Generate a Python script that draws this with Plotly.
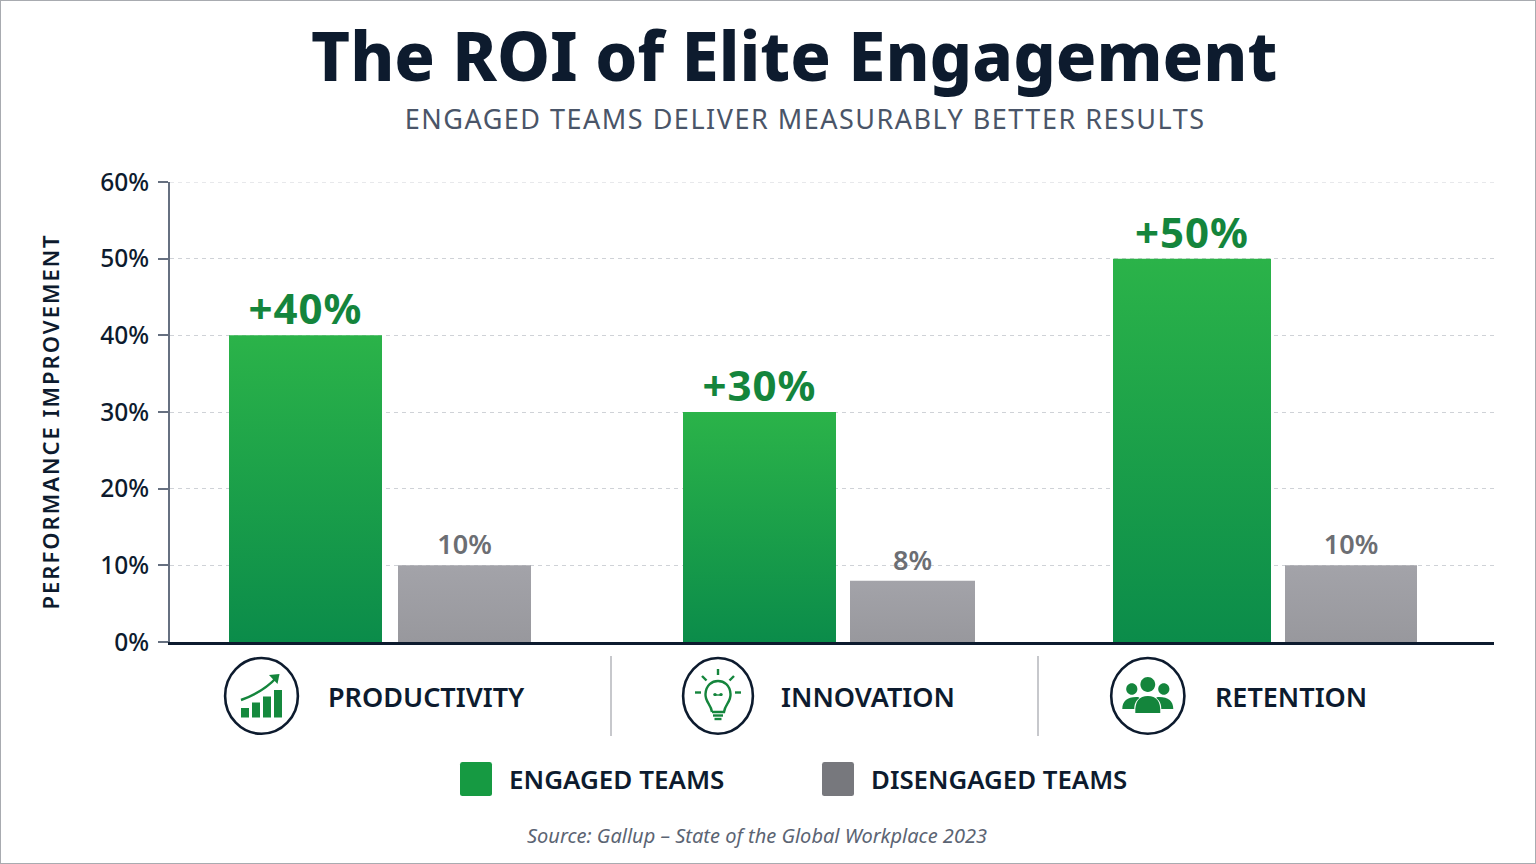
import plotly.graph_objects as go

# Chart content
CATEGORIES = ["PRODUCTIVITY", "INNOVATION", "RETENTION"]
ENGAGED = [40, 30, 50]
DISENGAGED = [10, 8, 10]
Y_TICKS = [0, 10, 20, 30, 40, 50, 60]
SERIES_NAMES = ["ENGAGED TEAMS", "DISENGAGED TEAMS"]
TITLE = "The ROI of Elite Engagement"
SUBTITLE = "ENGAGED TEAMS DELIVER MEASURABLY BETTER RESULTS"
Y_LABEL = "PERFORMANCE IMPROVEMENT"
SOURCE = "Source: Gallup – State of the Global Workplace 2023"

# Layout geometry, in page pixels
W, H = 1536, 864
PLOT_L, PLOT_R, PLOT_T, PLOT_B = 170, 1494, 182, 642
ENGAGED_CENTER = [305.5, 759.5, 1192]
ENGAGED_WIDTH = [153, 153, 158]
DISENGAGED_CENTER = [464.5, 912.5, 1351]
DISENGAGED_WIDTH = [133, 125, 132]
LABEL_CENTER = [426, 868, 1291]
SEPARATOR_X = [611, 1038]
ICON_CENTER = [261.5, 718, 1147.8]

NAVY = "#0d1b2e"
GREEN = "#14853c"
SLATE = "#4a5568"
FONT = "Noto Sans"


def px(x):
    return x / W


def py(y):
    return 1 - y / H


def path(*cmds):
    # Each command is a letter followed by pixel coordinate pairs
    out = []
    for c in cmds:
        letter, pts = c[0], c[1:]
        coords = " ".join(f"{px(pts[i]):.5f},{py(pts[i + 1]):.5f}" for i in range(0, len(pts), 2))
        out.append(f"{letter} {coords}")
    return " ".join(out)


def line_shape(x0, y0, x1, y1, color, width):
    return dict(type="line", xref="paper", yref="paper", x0=px(x0), y0=py(y0), x1=px(x1), y1=py(y1),
                line=dict(color=color, width=width), layer="above")


def fill_shape(d, color):
    return dict(type="path", xref="paper", yref="paper", path=d, fillcolor=color, line=dict(width=0), layer="above")


def stroke_shape(d, color, width):
    return dict(type="path", xref="paper", yref="paper", path=d, line=dict(color=color, width=width), layer="above")


def rect_path(x0, y0, x1, y1):
    return path(("M", x0, y0), ("L", x1, y0), ("L", x1, y1), ("L", x0, y1)) + " Z"


def rounded_rect_path(x0, y0, x1, y1, r):
    return path(("M", x0 + r, y0), ("L", x1 - r, y0), ("Q", x1, y0, x1, y0 + r), ("L", x1, y1 - r),
                ("Q", x1, y1, x1 - r, y1), ("L", x0 + r, y1), ("Q", x0, y1, x0, y1 - r), ("L", x0, y0 + r),
                ("Q", x0, y0, x0 + r, y0)) + " Z"


def ellipse_path(cx, cy, rx, ry):
    return path(("M", cx - rx, cy),
                ("C", cx - rx, cy - ry * 0.55, cx - rx * 0.55, cy - ry, cx, cy - ry),
                ("C", cx + rx * 0.55, cy - ry, cx + rx, cy - ry * 0.55, cx + rx, cy),
                ("C", cx + rx, cy + ry * 0.55, cx + rx * 0.55, cy + ry, cx, cy + ry),
                ("C", cx - rx * 0.55, cy + ry, cx - rx, cy + ry * 0.55, cx - rx, cy)) + " Z"


def ring(cx, rx, cy=695.9, ry=37.9):
    return dict(type="circle", xref="paper", yref="paper", x0=px(cx - rx), x1=px(cx + rx), y0=py(cy + ry), y1=py(cy - ry),
                line=dict(color=NAVY, width=2.6), fillcolor="white", layer="above")


def chart_icon(cx):
    o = cx - 261.5
    shapes = [ring(cx, 36.4)]
    for x0, x1, top in [(241, 249, 708), (252, 260, 702.5), (263, 271, 696.5), (274, 282, 690)]:
        shapes.append(fill_shape(rect_path(x0 + o, top, x1 + o, 717.5), "#15893d"))
    shapes.append(stroke_shape(path(("M", 241 + o, 700), ("C", 255 + o, 695, 268 + o, 687, 277 + o, 677)), GREEN, 2.4))
    shapes.append(fill_shape(path(("M", 269 + o, 675), ("L", 279.5 + o, 674), ("L", 277.5 + o, 684)) + " Z", GREEN))
    return shapes


def bulb_icon(cx):
    o = cx - 718
    w = 2.4
    shapes = [ring(cx, 34.9)]
    shapes.append(stroke_shape(path(("M", 712 + o, 712),
                                    ("C", 711 + o, 704, 705 + o, 702, 705.5 + o, 694),
                                    ("C", 706 + o, 685, 712 + o, 681, 718 + o, 681),
                                    ("C", 724 + o, 681, 730 + o, 685, 730.5 + o, 694),
                                    ("C", 731 + o, 702, 725 + o, 704, 724 + o, 712),
                                    ("L", 712 + o, 712)), GREEN, w))
    for x0, y0, x1, y1 in [(718, 669, 718, 675), (702, 676, 706.5, 680.5), (734, 676, 729.5, 680.5),
                           (695, 692.5, 701, 692.5), (735, 692.5, 741, 692.5),
                           (713, 715.5, 723, 715.5), (714.5, 719, 721.5, 719)]:
        shapes.append(line_shape(x0 + o, y0, x1 + o, y1, GREEN, w))
    shapes.append(fill_shape(ellipse_path(715 + o, 694.5, 1.8, 1.6), GREEN))
    shapes.append(fill_shape(ellipse_path(721 + o, 694.5, 1.8, 1.6), GREEN))
    shapes.append(line_shape(715 + o, 695, 721 + o, 695, GREEN, 1.4))
    return shapes


def people_icon(cx):
    o = cx - 1147.5
    shapes = [ring(cx, 36.6)]
    shapes.append(fill_shape(ellipse_path(1131.5 + o, 689, 5.6, 5.8), GREEN))
    shapes.append(fill_shape(ellipse_path(1163.5 + o, 689, 5.6, 5.8), GREEN))
    shapes.append(fill_shape(path(("M", 1122 + o, 709), ("C", 1122 + o, 701, 1127 + o, 697, 1136 + o, 697),
                                  ("C", 1138 + o, 697, 1139 + o, 697, 1139 + o, 698),
                                  ("C", 1135 + o, 701, 1134 + o, 705, 1134 + o, 709)) + " Z", GREEN))
    shapes.append(fill_shape(path(("M", 1173 + o, 709), ("C", 1173 + o, 701, 1168 + o, 697, 1159 + o, 697),
                                  ("C", 1157 + o, 697, 1156 + o, 697, 1156 + o, 698),
                                  ("C", 1160 + o, 701, 1161 + o, 705, 1161 + o, 709)) + " Z", GREEN))
    shapes.append(fill_shape(ellipse_path(1147.5 + o, 684.5, 7.4, 7.4), GREEN))
    shapes.append(fill_shape(path(("M", 1135 + o, 713), ("C", 1134.5 + o, 701, 1139 + o, 696, 1147.5 + o, 696),
                                  ("C", 1156 + o, 696, 1160.5 + o, 701, 1160 + o, 713)) + " Z", GREEN))
    return shapes


def note(x, y, text, size, color, weight=400, style="normal", angle=0):
    return dict(x=px(x), y=py(y), xref="paper", yref="paper", text=text, showarrow=False, textangle=angle,
                xanchor="center", yanchor="middle",
                font=dict(family=FONT, size=size, color=color, weight=weight, style=style))


fig = go.Figure()
fig.add_bar(name=SERIES_NAMES[0], x=ENGAGED_CENTER, y=ENGAGED, width=ENGAGED_WIDTH,
            marker=dict(color="#1f9f47", line_width=0),
            text=[f"+{v}%" for v in ENGAGED], textposition="outside", cliponaxis=False,
            textfont=dict(family=FONT, size=42, color=GREEN, weight=700))
fig.add_bar(name=SERIES_NAMES[1], x=DISENGAGED_CENTER, y=DISENGAGED, width=DISENGAGED_WIDTH,
            marker=dict(color="#9d9ea3", line_width=0),
            text=[f"{v}%" for v in DISENGAGED], textposition="outside", cliponaxis=False,
            textfont=dict(family=FONT, size=27, color="#6c6e73", weight=600))

shapes = [dict(type="rect", xref="paper", yref="paper", x0=0, y0=0, x1=1, y1=1,
               line=dict(color="#a8abb0", width=2), layer="above")]
# Top gridline, which the axis drops at the end of its range
shapes.append(dict(type="line", xref="paper", yref="y", x0=px(PLOT_L), x1=px(PLOT_R), y0=Y_TICKS[-1], y1=Y_TICKS[-1],
                   line=dict(color="#cfd2d7", width=1, dash="4px,4px"), layer="below"))
for x in SEPARATOR_X:
    shapes.append(line_shape(x, 656, x, 736, "#b4b6bb", 1.5))
for center, make_icon in zip(ICON_CENTER, [chart_icon, bulb_icon, people_icon]):
    shapes += make_icon(center)
# Legend swatches
shapes.append(fill_shape(rounded_rect_path(460, 762, 492, 796, 2.5), "#169a42"))
shapes.append(fill_shape(rounded_rect_path(822, 762, 854, 796, 2.5), "#77787d"))

annotations = [
    note(794, 55, TITLE, 67, NAVY, 800),
    note(805, 118, SUBTITLE, 27, SLATE, 400),
    note(49, 421.5, Y_LABEL, 22, NAVY, 600, angle=-90),
    note(616, 779, SERIES_NAMES[0], 26, NAVY, 600),
    note(999, 779, SERIES_NAMES[1], 25.8, NAVY, 600),
    note(757, 835, SOURCE, 20, "#5b6473", 400, "italic"),
]
for x, label in zip(LABEL_CENTER, CATEGORIES):
    annotations.append(note(x, 696, label, 27, NAVY, 600))

fig.update_layout(
    width=W, height=H, margin=dict(l=0, r=0, t=0, b=0, pad=0, autoexpand=False), autosize=False,
    paper_bgcolor="white", plot_bgcolor="white", showlegend=False, barmode="overlay",
    shapes=shapes, annotations=annotations,
    xaxis=dict(domain=[px(PLOT_L), px(PLOT_R)], range=[PLOT_L, PLOT_R], showgrid=False, showticklabels=False,
               ticks="", zeroline=False, showline=True, linecolor=NAVY, linewidth=3, automargin=False),
    yaxis=dict(domain=[py(PLOT_B), py(PLOT_T)], range=[0, 60], tickvals=Y_TICKS, ticktext=[f"{v}%" for v in Y_TICKS],
               tickfont=dict(family=FONT, size=24.5, color=NAVY, weight=500), ticks="outside", ticklen=10, tickwidth=1.5,
               ticklabelstandoff=4,
               tickcolor="#667080", showline=True, linecolor="#667080", linewidth=2, zeroline=False,
               automargin=False, showgrid=True, gridcolor="#cfd2d7", griddash="4px,4px", gridwidth=1),
)

# Vertical gradients on the bars, letter spacing on the spaced-out captions,
# and a small drop of the large value labels towards their bars
POST_SCRIPT = """
var gd = document.getElementById('{plot_id}');
var svg = gd.querySelector('svg.main-svg');
var NS = 'http://www.w3.org/2000/svg';
var defs = document.createElementNS(NS, 'defs');
function grad(id, top, bottom) {
  var g = document.createElementNS(NS, 'linearGradient');
  g.setAttribute('id', id);
  g.setAttribute('x1', '0'); g.setAttribute('y1', '0'); g.setAttribute('x2', '0'); g.setAttribute('y2', '1');
  [[0, top], [1, bottom]].forEach(function (s) {
    var stop = document.createElementNS(NS, 'stop');
    stop.setAttribute('offset', s[0]); stop.setAttribute('stop-color', s[1]);
    g.appendChild(stop);
  });
  defs.appendChild(g);
}
grad('engagedFill', '#2bb349', '#0b8c4a');
grad('disengagedFill', '#a3a3a9', '#98989d');
svg.insertBefore(defs, svg.firstChild);
var ids = ['engagedFill', 'disengagedFill'];
gd.querySelectorAll('.barlayer .trace').forEach(function (t, i) {
  t.querySelectorAll('.point path').forEach(function (p) {
    p.style.setProperty('fill', 'url(#' + ids[i] + ')');
  });
  if (i === 0) {
    t.querySelectorAll('.point text').forEach(function (label) {
      label.style.letterSpacing = '1px';
      var old = label.getAttribute('transform') || '';
      label.setAttribute('transform', 'translate(0,4) ' + old);
    });
  }
});
gd.querySelectorAll('.annotation-text').forEach(function (t) {
  if (t.textContent.indexOf('DELIVER') >= 0) { t.style.letterSpacing = '1.5px'; }
  if (t.textContent.indexOf('PERFORMANCE') >= 0) { t.style.letterSpacing = '2px'; }
});
"""

fig.write_html("out.html", post_script=POST_SCRIPT, config={"displayModeBar": False})
